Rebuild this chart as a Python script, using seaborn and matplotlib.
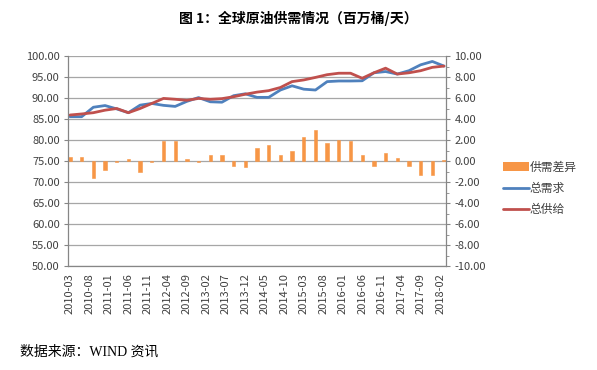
import numpy as np
import matplotlib
matplotlib.use("Agg")
import matplotlib.pyplot as plt
import seaborn as sns
from matplotlib.patches import Patch
from matplotlib.lines import Line2D

sns.set_style("white")
plt.rcParams['font.family'] = ['Noto Sans CJK SC', 'DejaVu Sans']

# quarterly data, 2010-03 .. 2018-03
demand = [85.55, 85.55, 87.8, 88.2, 87.4, 86.5, 88.3, 88.7, 88.25, 88.0,
          89.2, 90.1, 89.1, 89.0, 90.55, 91.0, 90.15, 90.15, 91.9, 92.9,
          92.1, 91.9, 93.9, 94.05, 94.05, 94.1, 96.0, 96.3, 95.7, 96.5,
          97.9, 98.7, 97.6]
supply = [85.95, 86.2, 86.5, 87.1, 87.5, 86.5, 87.5, 88.7, 89.9, 89.7,
          89.45, 89.9, 89.7, 89.85, 90.3, 90.9, 91.4, 91.75, 92.5, 93.9,
          94.3, 94.9, 95.55, 95.9, 95.9, 94.7, 96.0, 97.1, 95.7, 96.0,
          96.5, 97.3, 97.6]
gap = [0.4, 0.4, -1.6, -0.9, -0.1, 0.2, -1.05, -0.1, 1.9, 1.95,
       0.2, -0.1, 0.55, 0.6, -0.45, -0.55, 1.2, 1.55, 0.55, 1.0,
       2.3, 2.95, 1.7, 2.0, 1.95, 0.6, -0.45, 0.8, 0.25, -0.45,
       -1.35, -1.35, 0.05]
tick_labels = ['2010-03', '2010-08', '2011-01', '2011-06', '2011-11', '2012-04',
               '2012-09', '2013-02', '2013-07', '2013-12', '2014-05', '2014-10',
               '2015-03', '2015-08', '2016-01', '2016-06', '2016-11', '2017-04',
               '2017-09', '2018-02']

x = np.arange(len(demand))
tick_pos = [((int(t[:4]) - 2010) * 12 + int(t[5:]) - 3) / 3 for t in tick_labels]

c_bar = '#F79646'
c_dem = '#4F81BD'
c_sup = '#C0504D'
c_txt = '#404040'
c_grid = '#A6A6A6'

fig = plt.figure(figsize=(5.97, 3.70), dpi=100)
ax = fig.add_axes([68/597, 1-266/370, (446-68)/597, (266-56)/370])
ax2 = ax.twinx()

sns.barplot(x=x, y=gap, ax=ax2, color=c_bar, width=0.28, saturation=1,
            edgecolor=c_bar, linewidth=0.4)
ax2.set_ylim(-10, 10)
ax2.set_yticks(np.arange(-10, 10.1, 2))
ax2.set_yticklabels([f'{v:.2f}' for v in np.arange(-10, 10.1, 2)])
ax2.yaxis.grid(True, color=c_grid, linewidth=0.9)
ax2.set_axisbelow(True)

sns.lineplot(x=x, y=demand, ax=ax, color=c_dem, linewidth=2)
sns.lineplot(x=x, y=supply, ax=ax, color=c_sup, linewidth=2)
ax.set_zorder(ax2.get_zorder() + 1)
ax.patch.set_visible(False)
ax.set_ylim(50, 100)
ax.set_yticks(np.arange(50, 100.1, 5))
ax.set_yticklabels([f'{v:.2f}' for v in np.arange(50, 100.1, 5)])

ax.set_xlim(-0.17, 32.17)
ax.set_xticks(tick_pos)
ax.set_xticklabels(tick_labels, rotation=90)
ax2.set_xlim(-0.17, 32.17)

for a in (ax, ax2):
    for s in a.spines.values():
        s.set_visible(False)
    a.set_xlabel('')
    a.set_ylabel('')
ax.spines['left'].set_visible(True)
ax.spines['bottom'].set_visible(True)
ax2.spines['right'].set_visible(True)
for s in (ax.spines['left'], ax.spines['bottom'], ax2.spines['right']):
    s.set_color('#868686')
    s.set_linewidth(0.9)

ax.tick_params(axis='y', labelsize=8, colors=c_txt, length=3, color='#868686', pad=3)
ax.tick_params(axis='x', labelsize=8, colors=c_txt, length=3, color='#868686', pad=2)
ax2.tick_params(axis='y', labelsize=8, colors=c_txt, length=3, color='#868686', pad=3)
ax2.set_yticks(np.arange(-9, 10, 2), minor=True)
ax2.tick_params(axis='y', which='minor', length=2, color='#868686')
ax2.tick_params(axis='x', bottom=False, labelbottom=False)

handles = [Patch(facecolor=c_bar, edgecolor='none'),
           Line2D([], [], color=c_dem, linewidth=2),
           Line2D([], [], color=c_sup, linewidth=2)]
fig.legend(handles, ['供需差异', '总需求', '总供给'], loc='upper left',
           bbox_to_anchor=(492/597, 1-150/370), frameon=False, fontsize=8.5,
           handlelength=2.2, handletextpad=0.1, labelspacing=0.7,
           labelcolor=c_txt)

fig.text(0.5, 1-18/370, '图 1：全球原油供需情况（百万桶/天）', ha='center', va='center',
         fontsize=10, fontweight='bold', color='black')
fig.text(20/597, 1-352/370, '数据来源：WIND 资讯', ha='left', va='center',
         fontsize=10, color='black', family=['Liberation Serif', 'Noto Sans CJK SC'])

fig.savefig('out.png', dpi=100)
